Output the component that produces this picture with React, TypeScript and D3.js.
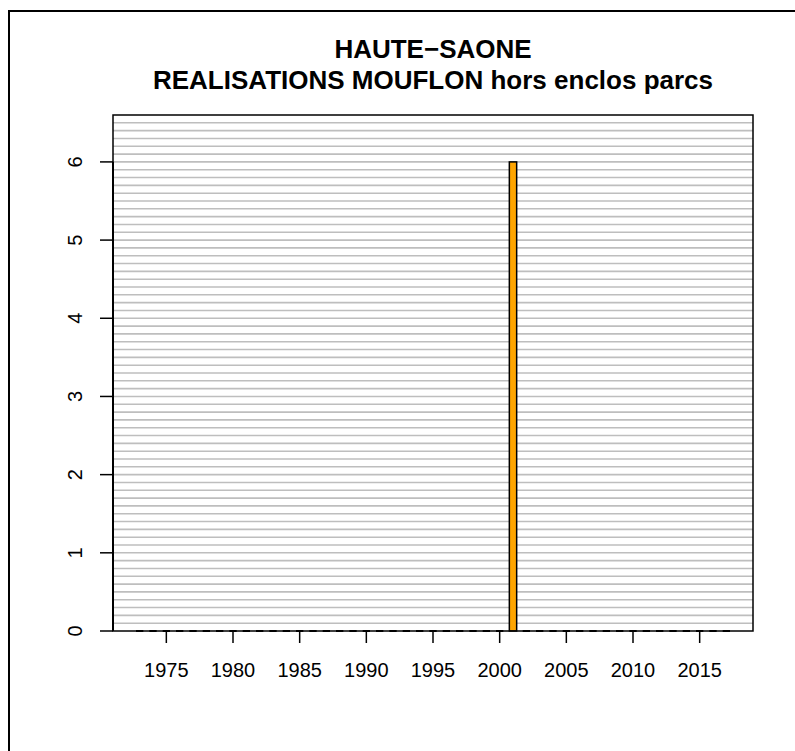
import React from "react";
import * as d3 from "d3";

const title1 = "HAUTE\u2212SAONE";
const title2 = "REALISATIONS MOUFLON hors enclos parcs";
const years: number[] = [
  1973, 1974, 1975, 1976, 1977, 1978, 1979, 1980, 1981, 1982, 1983, 1984, 1985,
  1986, 1987, 1988, 1989, 1990, 1991, 1992, 1993, 1994, 1995, 1996, 1997, 1998,
  1999, 2000, 2001, 2002, 2003, 2004, 2005, 2006, 2007, 2008, 2009, 2010, 2011,
  2012, 2013, 2014, 2015, 2016, 2017,
];
const values: number[] = [
  0, 0, 0, 0, 0, 0, 0, 0, 0, 0, 0, 0, 0, 0, 0, 0, 0, 0, 0, 0, 0, 0, 0, 0, 0, 0,
  0, 0, 6, 0, 0, 0, 0, 0, 0, 0, 0, 0, 0, 0, 0, 0, 0, 0, 0,
];
const xTicks: number[] = [1975, 1980, 1985, 1990, 1995, 2000, 2005, 2010, 2015];
const yTicks: number[] = [0, 1, 2, 3, 4, 5, 6];

const W = 795;
const H = 751;
const L = 113, R = 753, T = 115, B = 631;

export default function App() {
  const x = d3.scaleLinear().domain([1971, 2019]).range([L, R]);
  const y = d3.scaleLinear().domain([0, 6.6]).range([B, T]);
  const bw = x(1971.55) - x(1971);
  const grid = d3.range(1, 66).map((i) => i / 10);
  const font = "'Liberation Sans', Arial, Helvetica, sans-serif";
  return (
    <svg
      width={W}
      height={H}
      style={{ position: "absolute", left: 0, top: 0, background: "#fff" }}
      fontFamily={font}
    >
      <rect x={9} y={11} width={W + 10} height={H + 10} fill="none" stroke="#000" strokeWidth={2} />
      <text x={(L + R) / 2} y={57.5} textAnchor="middle" fontSize={26} fontWeight="bold">
        {title1}
      </text>
      <text x={(L + R) / 2} y={88.5} textAnchor="middle" fontSize={26} fontWeight="bold">
        {title2}
      </text>
      {grid.map((g) => (
        <line key={g} x1={L} x2={R} y1={y(g)} y2={y(g)} stroke="#bebebe" strokeWidth={1.6} />
      ))}
      {years.map((yr, i) =>
        values[i] > 0 ? (
          <rect
            key={yr}
            x={x(yr) - bw / 2}
            y={y(values[i])}
            width={bw}
            height={y(0) - y(values[i])}
            fill="#FFA500"
            stroke="#000"
            strokeWidth={1.5}
          />
        ) : (
          <line
            key={yr}
            x1={x(yr) - bw / 2}
            x2={x(yr) + bw / 2}
            y1={y(0)}
            y2={y(0)}
            stroke="#000"
            strokeWidth={2}
          />
        )
      )}
      <rect x={L} y={T} width={R - L} height={B - T} fill="none" stroke="#000" strokeWidth={1.5} />
      <line x1={L} x2={L} y1={y(0)} y2={y(6)} stroke="#000" strokeWidth={2} />
      {yTicks.map((t) => (
        <g key={t}>
          <line x1={L - 13} x2={L} y1={y(t)} y2={y(t)} stroke="#000" strokeWidth={1.5} />
          <text
            transform={`translate(${82},${y(t)}) rotate(-90)`}
            textAnchor="middle"
            fontSize={20}
          >
            {t}
          </text>
        </g>
      ))}
      {xTicks.map((t) => (
        <g key={t}>
          <line x1={x(t)} x2={x(t)} y1={B} y2={B + 12} stroke="#000" strokeWidth={1.5} />
          <text x={x(t)} y={677} textAnchor="middle" fontSize={20}>
            {t}
          </text>
        </g>
      ))}
    </svg>
  );
}
